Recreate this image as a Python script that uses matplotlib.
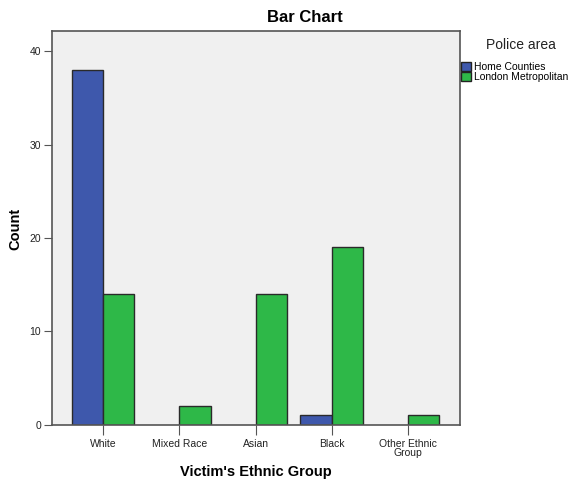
import matplotlib.pyplot as plt
import numpy as np

plt.rcParams["font.family"] = ["Liberation Sans", "DejaVu Sans"]

# Data
groups = ["White", "Mixed Race", "Asian", "Black", "Other Ethnic\nGroup"]
home_counties = [38, 0, 0, 1, 0]
london_met = [14, 2, 14, 19, 1]
series_names = ["Home Counties", "London Metropolitan"]

blue = "#3e58ac"
green = "#2eb848"
edge = "#2a2a2a"
frame = "#555555"

W, H = 571, 482
fig = plt.figure(figsize=(W / 100, H / 100), dpi=100)
ax = fig.add_axes([52 / W, 1 - 424.7 / H, 408 / W, 394 / H])
ax.set_facecolor("#f0f0f0")

x = np.arange(len(groups))
w = 0.41
hc = np.array(home_counties)
lm = np.array(london_met)
# zero-height bars are not drawn
ax.bar(x[hc > 0] - w / 2, hc[hc > 0], w, color=blue, edgecolor=edge,
       linewidth=1, label=series_names[0])
ax.bar(x[lm > 0] + w / 2, lm[lm > 0], w, color=green, edgecolor=edge,
       linewidth=1, label=series_names[1])

ax.set_xlim(-0.674, 4.687)
ax.set_ylim(0, 42.2)
ax.set_yticks([0, 10, 20, 30, 40])
ax.set_xticks(x)
ax.set_xticklabels(groups, fontsize=7.5, linespacing=0.95, color="#222222")
ax.tick_params(axis="y", labelsize=7.5, length=6, color=frame, pad=2,
               labelcolor="#222222")
ax.tick_params(axis="x", length=7, color=frame, pad=3)
for s in ax.spines.values():
    s.set_color(frame)
    s.set_linewidth(1.2)

fig.text(304.5 / W, 1 - 18 / H, "Bar Chart", fontsize=12, fontweight="bold",
         ha="center", va="center")
fig.text(256 / W, 1 - 472 / H, "Victim's Ethnic Group", fontsize=10.5,
         fontweight="bold", ha="center", va="center")
fig.text(15 / W, 1 - 229 / H, "Count", fontsize=10.5, fontweight="bold",
         ha="center", va="center", rotation=90)

# legend title placed separately to leave the gap seen in the original
fig.text(521 / W, 1 - 45 / H, "Police area", fontsize=10, color="#222222",
         ha="center", va="center")
handles, labels = ax.get_legend_handles_labels()
leg = fig.legend(handles, labels, loc="upper left",
                 bbox_to_anchor=(461 / W, 1 - 62 / H), frameon=False,
                 fontsize=7.5, handlelength=1.0, handleheight=1.0,
                 handletextpad=0.2, labelspacing=-0.05, borderpad=0.0,
                 borderaxespad=0.0)
for h in leg.legend_handles:
    h.set_edgecolor("#222222")

fig.savefig("out.png", dpi=100, facecolor="white")
